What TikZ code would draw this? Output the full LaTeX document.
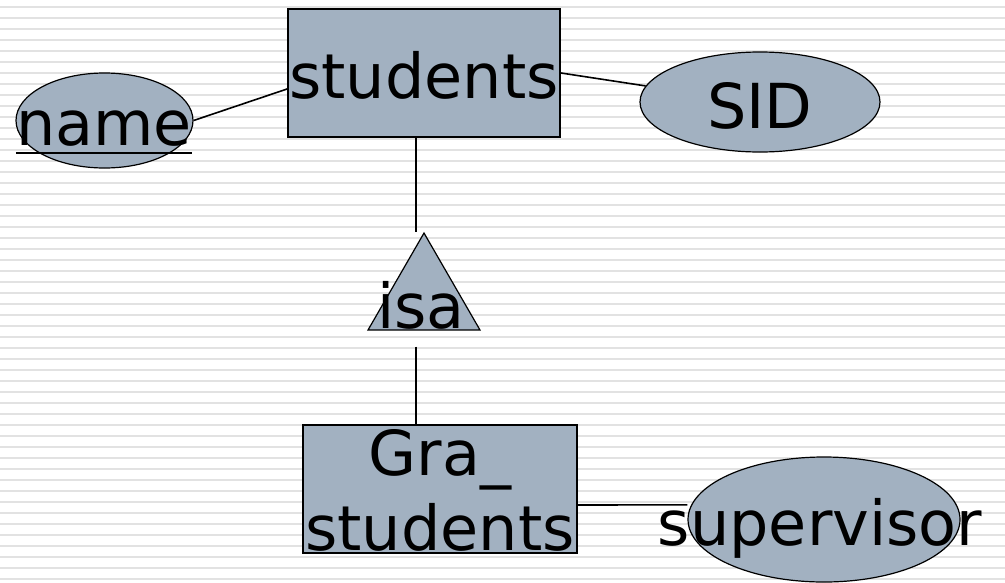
\documentclass[tikz,border=0pt]{standalone}
\usepackage{fontspec}
\setmainfont{DejaVu Sans}
\usetikzlibrary{shapes.geometric}
\definecolor{erfill}{HTML}{A2B1C1}
\definecolor{stripe}{HTML}{E2E2E2}

\begin{document}
\begin{tikzpicture}[x=0.75pt,y=-0.75pt,
    entity/.style={draw,fill=erfill,line width=1.5pt,inner sep=0pt,minimum height=96pt},
    attr/.style={ellipse,draw,fill=erfill,line width=0.9pt,inner sep=0pt},
    word/.style={anchor=base,inner sep=0pt,font=\fontsize{46.5}{56}\selectfont},
    link/.style={line width=1.2pt}]
  \useasboundingbox (0,0) rectangle (1005,582);
  \foreach \y in {7,18,...,582}
    \draw[stripe,line width=2pt] (0,\y) -- (1005,\y);

  \node[entity,minimum width=204pt] (students) at (424,73) {};
  \node[attr,minimum width=132.75pt,minimum height=71.25pt] (name) at (104.5,120.5) {};
  \node[attr,minimum width=180pt,minimum height=75pt] (SID) at (760,102) {};
  \node[regular polygon,regular polygon sides=3,draw,fill=erfill,line width=0.9pt,
        inner sep=0pt,minimum size=97pt] (isa) at (424,297.7) {};
  \node[entity,minimum width=205.5pt] (gra) at (440,489) {};
  \node[attr,minimum width=204pt,minimum height=93.75pt] (super) at (824,519.5) {};

  \draw[link] (name.east) -- ([yshift=-12pt]students.west);
  \draw[link] (students.east) -- (SID.172);
  \draw[link] ([xshift=-6pt]students.south) -- ([xshift=-6pt]isa.corner 1);
  \draw[link] ([shift={(-6pt,-12pt)}]isa.side 2) -- ([xshift=-18pt]gra.north);
  \draw[link] ([yshift=-12pt]gra.east) -- ([yshift=11pt]super.west);

  \node[word] (studentstext) at (424,98) {students};
  \node[word] (nametext) at (104,145) {name};
  \draw[line width=2.2pt] ([yshift=-6pt]nametext.base west) -- ([yshift=-6pt]nametext.base east);
  \node[word] (SIDtext) at (760,128) {SID};
  \node[word] (isatext) at (421,328) {isa};
  \node[word] (gratext) at (440,475) {Gra\_};
  \node[word] (gratext2) at (440,550) {students};
  \node[word] (supertext) at (820,545) {supervisor};
\end{tikzpicture}
\end{document}
